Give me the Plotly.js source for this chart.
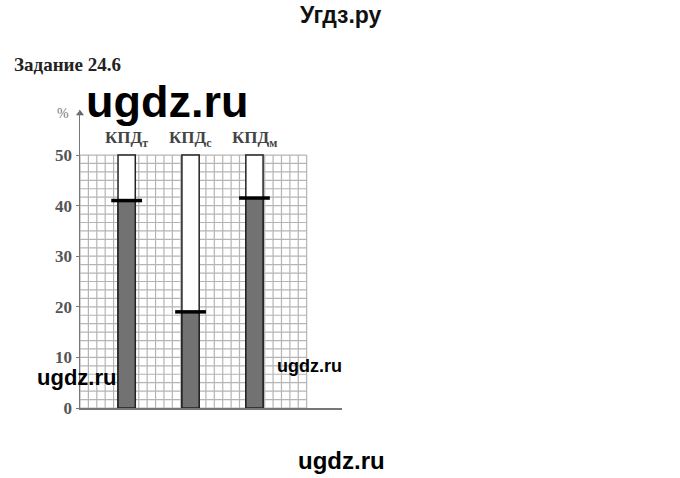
<!DOCTYPE html>
<html>
<head>
<meta charset="utf-8">
<script src="https://cdn.plot.ly/plotly-3.0.1.min.js"></script>
<style>html,body{margin:0;padding:0;background:#fff;}#chart{width:680px;height:478px;}</style>
</head>
<body>
<div id="chart"></div>
<script>
// ---- data ----
const categories = ['КПД<sub>т</sub>', 'КПД<sub>с</sub>', 'КПД<sub>м</sub>'];
const efficiency = [41, 19, 41.5];     // % (level mark in each tube)
const tubeMax = [50, 50, 50];          // % (scale top of each tube)
const yTickVals = [0, 10, 20, 30, 40, 50];
const yTickText = ['0', '10', '20', '30', '40', '50'];

// ---- layout helpers ----
const xIdx = categories.map((c, i) => i);
const xMin = -0.73, xMax = 3.37, yMax = 58.9;
const gridRight = xMin + 3.547, gridTop = 50;
const nX = 27, nY = 30;
const pxL = 80, pxR = 342, pxT = 110, pxB = 408;
const px = x => (x - pxL) / (pxR - pxL);
const py = y => (pxB - y) / (pxB - pxT);

const shapes = [];
for (let i = 0; i <= nX; i++) {
  const x = xMin + (gridRight - xMin) * i / nX;
  shapes.push({type: 'line', layer: 'below', xref: 'x', yref: 'y', x0: x, x1: x, y0: 0, y1: gridTop,
    line: {color: '#b5b5b5', width: 1.2}});
}
for (let j = 0; j <= nY; j++) {
  const y = gridTop * j / nY;
  shapes.push({type: 'line', layer: 'below', xref: 'x', yref: 'y', x0: xMin, x1: gridRight, y0: y, y1: y,
    line: {color: '#b5b5b5', width: 1.2}});
}

const serif = '"Liberation Serif", "DejaVu Serif", serif';
const sans = '"Liberation Sans", Arial, sans-serif';

const traces = [
  { type: 'bar', x: xIdx, y: tubeMax, width: 0.27,
    marker: {color: '#ffffff', line: {color: '#222', width: 1.5}}, hoverinfo: 'skip' },
  { type: 'bar', x: xIdx, y: efficiency, width: 0.27,
    marker: {color: '#727272', line: {color: '#222', width: 1.5}}, hoverinfo: 'skip' },
  { type: 'scatter', mode: 'markers', x: xIdx, y: efficiency, cliponaxis: false,
    marker: {symbol: 'line-ew', size: 22, line: {color: '#000', width: 3.5}}, hoverinfo: 'skip' },
  { type: 'scatter', mode: 'markers', x: [xMin], y: [58.2], cliponaxis: false,
    marker: {symbol: 'triangle-up', size: 7, color: '#666'}, hoverinfo: 'skip' }
];

const ann = (x, y, text, font, extra) => Object.assign({ x: x, y: y, xref: 'paper', yref: 'paper',
  xanchor: 'center', yanchor: 'middle', text: text, showarrow: false, font: font }, extra || {});

const annotations = [
  ...categories.map((c, i) => ({ x: i, y: 53.2, xref: 'x', yref: 'y', xanchor: 'center', yanchor: 'middle',
    text: '<b>' + c + '</b>', showarrow: false, font: {family: serif, size: 17, color: '#444'} })),
  ann(px(63), py(113), '%', {family: serif, size: 14, color: '#777'}),
  ann(px(341), py(15), '<b>Угдз.ру</b>', {family: sans, size: 23, color: '#111'}),
  ann(px(12), py(65), '<b>Задание 24.6</b>', {family: serif, size: 19, color: '#222'}, {xanchor: 'left'}),
  ann(px(167), py(101), '<b>ugdz.ru</b>', {family: sans, size: 45, color: '#000'}),
  ann(px(76), py(377), '<b>ugdz.ru</b>', {family: sans, size: 22, color: '#000'}),
  ann(px(309), py(366), '<b>ugdz.ru</b>', {family: sans, size: 18, color: '#000'}),
  ann(px(341), py(460), '<b>ugdz.ru</b>', {family: sans, size: 24, color: '#000'})
];

const layout = {
  width: 680, height: 478,
  margin: {l: pxL, r: 680 - pxR, t: pxT, b: 478 - pxB, pad: 0},
  paper_bgcolor: '#fff', plot_bgcolor: 'rgba(0,0,0,0)',
  showlegend: false, barmode: 'overlay',
  xaxis: { range: [xMin, xMax], showgrid: false, zeroline: false, showticklabels: false, ticks: '',
    showline: true, linecolor: '#777', linewidth: 1.5, fixedrange: true },
  yaxis: { range: [0, yMax], showgrid: false, zeroline: false, tickvals: yTickVals, ticktext: yTickText,
    ticks: 'outside', ticklen: 3, tickcolor: '#777', showline: true, linecolor: '#777', linewidth: 1.5,
    tickfont: {family: serif, size: 17, color: '#555', weight: 'bold'}, fixedrange: true },
  shapes: shapes,
  annotations: annotations
};

Plotly.newPlot('chart', traces, layout, {displayModeBar: false, staticPlot: true});
</script>
</body>
</html>
